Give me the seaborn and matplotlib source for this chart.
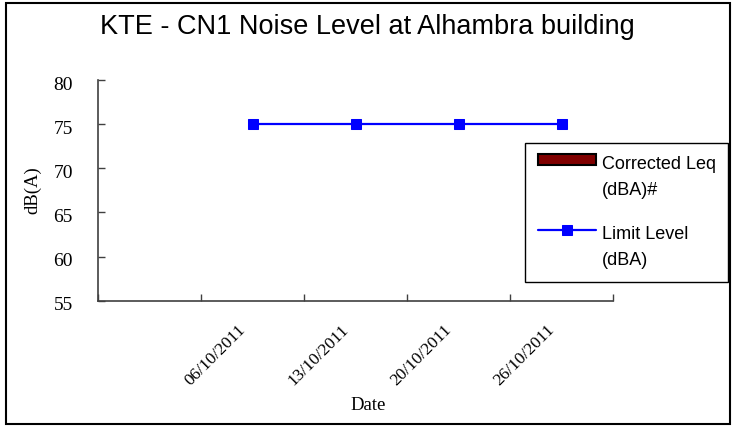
import matplotlib
matplotlib.use("Agg")
import matplotlib.pyplot as plt
import matplotlib.transforms as mtransforms
from matplotlib.container import BarContainer
from matplotlib.legend_handler import HandlerLine2D, HandlerPatch
from matplotlib.lines import Line2D
from matplotlib.patches import Rectangle
import numpy as np
import pandas as pd
import seaborn as sns

# ── Data ──────────────────────────────────────────────────────────────────────
dates = ["06/10/2011", "13/10/2011", "20/10/2011", "26/10/2011"]
corrected_leq = [np.nan, np.nan, np.nan, np.nan]   # no measurements shown
limit_level = [75, 75, 75, 75]
y_ticks = [55, 60, 65, 70, 75, 80]

TITLE = "KTE - CN1 Noise Level at Alhambra building"
LEQ_LABEL = "Corrected Leq\n(dBA)#"
LIMIT_LABEL = "Limit Level\n(dBA)"

# category slots: first slot left empty like the source sheet
pos = np.arange(1, len(dates) + 1)
df = pd.DataFrame({"pos": pos, "date": dates,
                   "leq": corrected_leq, "limit": limit_level})

sns.set_style("white")
plt.rcParams["font.family"] = ["Liberation Sans", "DejaVu Sans"]
for key in ["text.color", "axes.labelcolor", "xtick.color", "ytick.color"]:
    plt.rcParams[key] = "black"
SERIF = ["Liberation Serif", "DejaVu Serif"]


# ── Legend handlers (handle lines up with first text line) ────────────────────
class _RaisedLine(HandlerLine2D):
    def __init__(self, shift, **kw):
        super().__init__(**kw)
        self.shift = shift

    def create_artists(self, legend, orig_handle, xdescent, ydescent,
                       width, height, fontsize, trans):
        arts = super().create_artists(legend, orig_handle, xdescent, ydescent,
                                      width, height, fontsize, trans)
        for a in arts:
            a.set_ydata(np.asarray(a.get_ydata()) + self.shift * fontsize)
        return arts


def _raised_rect(shift):
    def make(legend, orig_handle, xdescent, ydescent, width, height, fontsize):
        return Rectangle((-xdescent, -ydescent + shift * fontsize), width, height)
    return make


def _from_first_bar(tgt, src):
    tgt.update_from(src.patches[0])


fig = plt.figure(figsize=(7.38, 4.32), dpi=100)
ax = fig.add_axes([98 / 738, 0.304, 515 / 738, 0.5108])

bars = ax.bar(df["pos"], df["leq"], width=0.6, color="#800000",
              edgecolor="black", linewidth=1.5, label=LEQ_LABEL)
sns.lineplot(data=df, x="pos", y="limit", ax=ax, color="#0000FF",
             linewidth=1.6, marker="s", markersize=6.5,
             markeredgecolor="#0000FF", legend=False)
limit_line = ax.get_lines()[0]

ax.set_xlim(-0.5, len(dates) + 0.5)
ax.set_ylim(y_ticks[0], y_ticks[-1])
ax.set_yticks(y_ticks)

# labels sit on the categories, tick marks fall between them
ax.set_xticks(pos)
ax.set_xticklabels(dates, rotation=45, ha="right", va="top")
ax.set_xticks(np.arange(-0.5, len(dates) + 1), minor=True)
ax.tick_params(axis="x", which="major", length=0, pad=15, bottom=True)
ax.tick_params(axis="x", which="minor", length=5, direction="in",
               color="#404040", width=1, bottom=True)
ax.tick_params(axis="y", length=5, direction="in", color="#404040",
               width=1, pad=18, left=True)

shift_x = mtransforms.ScaledTranslation(-0.04, 0, fig.dpi_scale_trans)
for lab in ax.get_xticklabels():
    lab.set_transform(lab.get_transform() + shift_x)
    lab.set_family(SERIF)
    lab.set_fontsize(12.5)
shift_y = mtransforms.ScaledTranslation(0, -0.03, fig.dpi_scale_trans)
for lab in ax.get_yticklabels():
    lab.set_transform(lab.get_transform() + shift_y)
    lab.set_family(SERIF)
    lab.set_fontsize(14)

for side in ["top", "right"]:
    ax.spines[side].set_visible(False)
for side in ["left", "bottom"]:
    ax.spines[side].set_color("#404040")
    ax.spines[side].set_linewidth(1.2)

ax.set_xlabel("Date", family=SERIF, fontsize=13.5)
ax.set_ylabel("dB(A)", family=SERIF, fontsize=13.5)
ax.xaxis.set_label_coords(0.524, -0.477)
ax.xaxis.label.set_va("center")
ax.yaxis.set_label_coords(-0.126, 0.5)
ax.yaxis.label.set_va("center")

fig.text(367 / 738, 1 - 27 / 432, TITLE, ha="center", va="center",
         fontsize=19.5)

leg = fig.legend(
    [bars, limit_line], [LEQ_LABEL, LIMIT_LABEL],
    loc="upper left", bbox_to_anchor=(525 / 738, 1 - 143 / 432),
    bbox_transform=fig.transFigure, borderaxespad=0,
    fontsize=13, frameon=True, fancybox=False, shadow=False,
    handlelength=3.25, handleheight=0.6, handletextpad=0.3,
    borderpad=0.7, labelspacing=1.5,
    handler_map={
        BarContainer: HandlerPatch(patch_func=_raised_rect(1.0),
                                   update_func=_from_first_bar),
        Line2D: _RaisedLine(1.0),
    },
)
leg.get_frame().set_edgecolor("black")
leg.get_frame().set_linewidth(1.0)
leg.get_frame().set_alpha(1)
plt.setp(leg.get_texts(), linespacing=1.7)

# outer chart border
fig.patches.append(Rectangle((6 / 738, 8 / 432), 724 / 738, 421 / 432,
                             transform=fig.transFigure, fill=False,
                             edgecolor="black", linewidth=1.5))

fig.savefig("out.png", dpi=100)
plt.close(fig)
